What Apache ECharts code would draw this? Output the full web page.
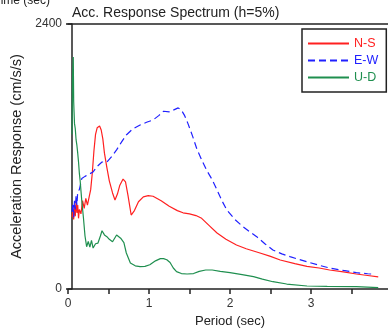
<!DOCTYPE html>
<html>
<head>
<meta charset="utf-8">
<script src="https://cdn.jsdelivr.net/npm/echarts@6/dist/echarts.min.js"></script>
<style>html,body{margin:0;padding:0;background:#fff;}#c{width:388px;height:333px;}</style>
</head>
<body>
<div id="c"></div>
<script>
const titleText = 'Acc. Response Spectrum (h=5%)';
const xName = 'Period (sec)';
const yName = 'Acceleration Response (cm/s/s)';
const seriesNames = ['N-S', 'E-W', 'U-D'];

const nsT = [0.05,0.06,0.07,0.08,0.09,0.10,0.11,0.12,0.13,0.14,0.16,0.18,0.20,0.22,0.24,0.26,0.28,0.30,0.32,0.34,0.36,0.39,0.41,0.43,0.45,0.48,0.51,0.55,0.58,0.61,0.64,0.68,0.71,0.74,0.78,0.82,0.87,0.93,0.99,1.05,1.15,1.25,1.35,1.42,1.50,1.58,1.65,1.75,1.84,1.95,2.08,2.20,2.37,2.50,2.62,2.80,2.95,3.10,3.23,3.40,3.56,3.70,3.83];
const nsA = [650,720,630,760,660,800,690,760,640,720,680,800,730,820,760,830,900,1050,1250,1400,1460,1476,1440,1360,1230,1100,980,870,806,860,940,996,970,850,670,710,790,835,845,840,800,750,710,690,680,665,640,570,507,450,398,365,326,295,263,230,205,190,172,155,136,122,109];

const ewT = [0.05,0.06,0.07,0.08,0.09,0.10,0.11,0.12,0.14,0.17,0.21,0.26,0.31,0.36,0.42,0.48,0.54,0.60,0.66,0.72,0.80,0.89,0.97,1.05,1.12,1.18,1.25,1.30,1.36,1.40,1.44,1.48,1.54,1.59,1.65,1.71,1.78,1.84,1.90,1.96,2.06,2.16,2.25,2.33,2.43,2.53,2.64,2.74,2.85,2.95,3.10,3.23,3.40,3.56,3.70,3.79];
const ewA = [700,780,650,800,720,850,760,880,900,1000,1020,1040,1060,1110,1150,1150,1200,1260,1330,1395,1450,1485,1510,1531,1570,1610,1605,1620,1640,1620,1570,1500,1380,1270,1170,1078,990,897,800,716,630,564,515,474,410,353,318,293,268,247,215,190,168,148,138,133];

const udT = [0.05,0.055,0.065,0.07,0.075,0.08,0.09,0.10,0.11,0.12,0.13,0.14,0.15,0.17,0.19,0.21,0.23,0.25,0.27,0.29,0.31,0.34,0.37,0.40,0.42,0.45,0.48,0.51,0.55,0.60,0.65,0.69,0.72,0.77,0.83,0.89,0.95,1.01,1.08,1.14,1.18,1.22,1.26,1.30,1.34,1.40,1.47,1.55,1.62,1.70,1.78,1.88,2.00,2.15,2.29,2.40,2.53,2.70,2.95,3.20,3.56,3.83];
const udA = [1400,1900,2100,1700,1600,1500,1450,1350,1300,1230,1150,1050,980,800,650,480,383,430,380,440,371,410,416,480,528,490,474,450,428,489,460,420,326,235,210,202,205,220,255,275,275,265,240,190,157,140,136,140,160,172,172,160,148,130,112,90,66,45,27,24,21,12];

const xTickLabels = ['0','1','2','3','4'];
const yTickLabels = ['0','2400'];

const pair = (t, a) => t.map((v, i) => [v, a[i]]);
const font = 'Liberation Sans, Arial, sans-serif';
const chart = echarts.init(document.getElementById('c'));
chart.setOption({
  animation: false,
  backgroundColor: '#fff',
  title: { text: titleText, left: 72, top: 6, padding: 0, textStyle: { fontFamily: font, fontSize: 14, fontWeight: 'normal', color: '#222' } },
  graphic: [{ type: 'text', right: 338, top: -5, style: { text: 'Time (sec)', font: '12px ' + font, fill: '#222' } }],
  grid: { left: 68, top: 24, width: 324, height: 265, containLabel: false, outerBoundsMode: 'none' },
  legend: {
    orient: 'vertical', left: 302, top: 29, padding: [8, 8, 8, 5],
    itemWidth: 41, itemHeight: 14, itemGap: 4,
    borderColor: '#222', borderWidth: 1.5,
    itemStyle: { opacity: 0 },
    textStyle: { fontFamily: font, fontSize: 12.5 },
    data: [
      { name: seriesNames[0], textStyle: { color: '#ff2020' } },
      { name: seriesNames[1], textStyle: { color: '#2020ff' } },
      { name: seriesNames[2], textStyle: { color: '#1f8f4f' } }
    ]
  },
  xAxis: [{
    type: 'value', min: 0, max: 4, interval: 0.5,
    name: xName, nameLocation: 'middle', nameGap: 25,
    nameTextStyle: { fontFamily: font, fontSize: 13, color: '#222' },
    axisLine: { lineStyle: { color: '#222', width: 1.5 } },
    axisTick: { length: 5, lineStyle: { color: '#222', width: 1.5 } },
    axisLabel: { fontFamily: font, fontSize: 12, color: '#333', margin: 9, showMaxLabel: true, hideOverlap: false,
      formatter: v => (Math.abs(v - Math.round(v)) < 1e-6 ? xTickLabels[Math.round(v)] : '') },
    splitLine: { show: false }
  }, {
    type: 'value', min: 0, max: 4, position: 'top',
    axisLine: { lineStyle: { color: '#222', width: 1.5 } },
    axisTick: { show: false }, axisLabel: { show: false }, splitLine: { show: false }
  }],
  yAxis: {
    type: 'value', min: 0, max: 2400, interval: 2400, offset: -4,
    name: yName, nameLocation: 'middle', nameGap: 45,
    nameTextStyle: { fontFamily: font, fontSize: 14.5, color: '#222' },
    axisLine: { show: true, lineStyle: { color: '#222', width: 1.5 } },
    axisTick: { show: true, length: 6, lineStyle: { color: '#222', width: 1.5 } },
    axisLabel: { fontFamily: font, fontSize: 12, color: '#333', margin: 10,
      formatter: v => (v === 0 ? yTickLabels[0] : yTickLabels[1]) },
    splitLine: { show: false }
  },
  series: [
    { name: seriesNames[0], type: 'line', symbol: 'none', data: pair(nsT, nsA), lineStyle: { color: '#ff2020', width: 1.2 }, itemStyle: { color: '#ff2020' } },
    { name: seriesNames[1], type: 'line', symbol: 'none', data: pair(ewT, ewA), lineStyle: { color: '#2020ff', width: 1.2, type: [7, 4] }, itemStyle: { color: '#2020ff' } },
    { name: seriesNames[2], type: 'line', symbol: 'none', data: pair(udT, udA), lineStyle: { color: '#1f8f4f', width: 1.2 }, itemStyle: { color: '#1f8f4f' } }
  ]
});
</script>
</body>
</html>
